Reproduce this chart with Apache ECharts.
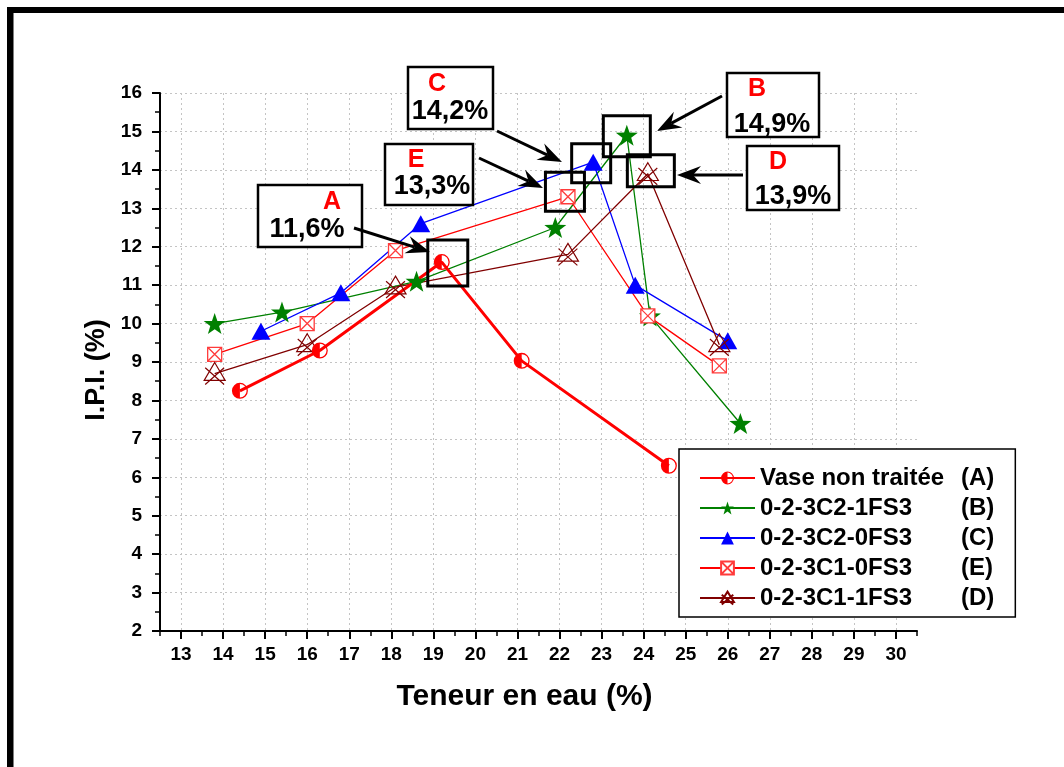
<!DOCTYPE html>
<html><head><meta charset="utf-8">
<script src="https://cdn.jsdelivr.net/npm/echarts@6/dist/echarts.min.js"></script>
<style>html,body{margin:0;padding:0;background:#fff}#c{width:1064px;height:767px}</style>
</head><body><div id="c"></div>
<script>
// ---------- data ----------
const seriesNames = ['Vase non traitée', '0-2-3C2-1FS3', '0-2-3C2-0FS3', '0-2-3C1-0FS3', '0-2-3C1-1FS3'];
const seriesLetters = ['(A)', '(B)', '(C)', '(E)', '(D)'];

const xA = [14.4, 16.3, 19.2, 21.1, 24.6];
const yA = [8.25, 9.3, 11.6, 9.03, 6.3];

const xB = [13.8, 15.4, 18.6, 21.9, 23.6, 24.15, 26.3];
const yB = [10.0, 10.3, 11.1, 12.5, 14.9, 10.2, 7.4];

const xC = [14.9, 16.8, 18.7, 22.8, 23.8, 26.0];
const yC = [9.8, 10.8, 12.6, 14.2, 11.0, 9.55];

const xE = [13.8, 16.0, 18.1, 22.2, 24.1, 25.8];
const yE = [9.2, 10.0, 11.9, 13.3, 10.2, 8.9];

const xD = [13.8, 16.0, 18.1, 22.2, 24.1, 25.8];
const yD = [8.7, 9.45, 10.95, 11.8, 13.9, 9.45];

const xTickValues = [13, 14, 15, 16, 17, 18, 19, 20, 21, 22, 23, 24, 25, 26, 27, 28, 29, 30];

const annotationLetters = ['A', 'B', 'C', 'E', 'D'];
const annotationValues = ['11,6%', '14,9%', '14,2%', '13,3%', '13,9%'];

// ---------- styling ----------
const FONT = 'Arial, "Liberation Sans", sans-serif';
const STAR = 'path://M10,0L12.35,6.76L19.51,6.91L13.8,11.24L15.88,18.09L10,14L4.12,18.09L6.2,11.24L0.49,6.91L7.65,6.76Z';
const HALF = 'path://M10,0A10,10 0 0 0 10,20Z M10,0A10,10 0 0 1 10,20L10,18.4A8.4,8.4 0 0 0 10,1.6Z';
const RIGHTHALF = 'path://M0,0A10,10 0 0 1 0,20Z';
const XSQUARE = 'path://M0,0L20,0L20,20L0,20Z M0,0L20,20 M20,0L0,20';
const XTRI = 'path://M10,0L20,17L0,17Z M1,5L19,21 M19,5L1,21';

function pts(xs, ys) { return xs.map((x, i) => [x, ys[i]]); }

const chart = echarts.init(document.getElementById('c'), null, { renderer: 'canvas' });

const seriesA = { type: 'line', name: seriesNames[0], data: pts(xA, yA), symbol: HALF, symbolSize: 16,
  itemStyle: { color: '#ff0000' }, lineStyle: { color: '#ff0000', width: 3 } };
const seriesB = { type: 'line', name: seriesNames[1], data: pts(xB, yB), symbol: STAR, symbolSize: [22, 21],
  itemStyle: { color: '#008000' }, lineStyle: { color: '#008000', width: 1.3 } };
const seriesC = { type: 'line', name: seriesNames[2], data: pts(xC, yC), symbol: 'triangle', symbolSize: [19, 17],
  itemStyle: { color: '#0000ff' }, lineStyle: { color: '#0000ff', width: 1.3 } };
const seriesE = { type: 'line', name: seriesNames[3], data: pts(xE, yE), symbol: XSQUARE, symbolSize: 14,
  itemStyle: { color: '#ffffff', borderColor: '#ff3b3b', borderWidth: 1.3 }, lineStyle: { color: '#ff0000', width: 1.3 } };
const seriesD = { type: 'line', name: seriesNames[4], data: pts(xD, yD), symbol: XTRI, symbolSize: [21, 22],
  itemStyle: { color: 'rgba(255,255,255,0)', borderColor: '#800000', borderWidth: 1.2 }, lineStyle: { color: '#800000', width: 1.3 } };
const seriesAfill = { type: 'scatter', name: 'A-fill', data: pts(xA, yA), symbol: RIGHTHALF, symbolSize: [6.6, 13.2],
  symbolOffset: [3.3, 0], itemStyle: { color: '#ffffff' }, silent: true };

const allSeries = [seriesB, seriesC, seriesE, seriesD, seriesA, seriesAfill];
allSeries.forEach(s => { s.animation = false; s.emphasis = { disabled: true }; s.xAxisIndex = 0; s.yAxisIndex = 0; });

const axisLabelStyle = { fontFamily: FONT, fontWeight: 'bold', fontSize: 19, color: '#000' };
const gridLine = { show: true, lineStyle: { color: '#c4c4c4', width: 1, type: [2, 3] } };

chart.setOption({
  animation: false,
  backgroundColor: '#fff',
  grid: { left: 160, right: 147, top: 93, bottom: 136 },
  legend: {
    data: seriesNames,
    orient: 'vertical', left: 679, top: 449,
    backgroundColor: '#fff', borderColor: '#000', borderWidth: 1.5,
    padding: [17, 21, 7, 20], itemGap: 6, itemWidth: 55, itemHeight: 16,
    selectedMode: false,
    formatter: name => {
      const i = seriesNames.indexOf(name);
      return '{n|' + seriesNames[i] + '}{l|' + seriesLetters[i] + '}';
    },
    textStyle: {
      fontFamily: FONT, fontWeight: 'bold', fontSize: 24, color: '#000', lineHeight: 24,
      rich: {
        n: { fontFamily: FONT, fontWeight: 'bold', fontSize: 24, color: '#000', width: 201, lineHeight: 24 },
        l: { fontFamily: FONT, fontWeight: 'bold', fontSize: 24, color: '#000', lineHeight: 24 }
      }
    }
  },
  xAxis: [{
    type: 'value', min: 12.5, max: 30.5, interval: 0.5,
    name: 'Teneur en eau (%)', nameLocation: 'middle', nameGap: 51,
    nameTextStyle: { fontFamily: FONT, fontWeight: 'bold', fontSize: 30, color: '#000', padding: [0, 28, 0, 0] },
    axisLine: { show: true, onZero: false, lineStyle: { color: '#000', width: 2 } },
    axisTick: { show: true, length: 8, customValues: xTickValues, lineStyle: { color: '#000', width: 2 } },
    axisLabel: Object.assign({ margin: 14, customValues: xTickValues,
      formatter: v => (Number.isInteger(v) ? String(v) : '') }, axisLabelStyle),
    splitLine: gridLine
  }, {
    type: 'value', min: 12.5, max: 30.5, interval: 0.5, position: 'bottom',
    axisLine: { show: false },
    axisTick: { show: true, length: 5, lineStyle: { color: '#000', width: 1.5 } },
    axisLabel: { show: false }, splitLine: { show: false }
  }],
  yAxis: {
    type: 'value', min: 2, max: 16, interval: 1,
    name: 'I.P.I. (%)', nameLocation: 'middle', nameGap: 32,
    nameTextStyle: { fontFamily: FONT, fontWeight: 'bold', fontSize: 27, color: '#000', padding: [0, 16, 0, 0] },
    axisLine: { show: true, onZero: false, lineStyle: { color: '#000', width: 2 } },
    axisTick: { show: true, length: 8, lineStyle: { color: '#000', width: 2 } },
    minorTick: { show: true, splitNumber: 2, length: 5, lineStyle: { color: '#000', width: 1.5 } },
    axisLabel: Object.assign({ margin: 18 }, axisLabelStyle),
    splitLine: gridLine
  },
  series: allSeries
});

// ---------- annotations ----------
const annoSeries = [seriesA, seriesB, seriesC, seriesE, seriesD];
const annoXs = [xA, xB, xC, xE, xD];
const annoYs = [yA, yB, yC, yE, yD];
const annoLayout = [
  { hl: [6, 1, 40, 46], box: [258, 185, 104, 62], lp: [332, 202], vp: [307, 230], ar: [354, 228, 430, 252] },
  { hl: [0, 1, 47, 41], box: [727, 73, 92, 64], lp: [757, 89], vp: [772, 125], ar: [722, 96, 657, 131] },
  { hl: [-2, 1, 39, 39], box: [408, 67, 85, 62], lp: [437, 84], vp: [450, 112], ar: [497, 131, 562, 162] },
  { hl: [-3, -5, 39, 39], box: [385, 144, 88, 61], lp: [416, 160], vp: [432, 187], ar: [479, 158, 543, 188] },
  { hl: [3, -3, 47, 32], box: [747, 146, 92, 64], lp: [778, 162], vp: [793, 197], ar: [743, 175, 677, 175] }
];

const graphics = [];
// outer frame (top and left edges)
graphics.push({ type: 'rect', shape: { x: 7, y: 7, width: 1057, height: 6 }, style: { fill: '#000' }, z: 200 });
graphics.push({ type: 'rect', shape: { x: 7, y: 7, width: 6.5, height: 760 }, style: { fill: '#000' }, z: 200 });

annoLayout.forEach((L, k) => {
  const ys = annoYs[k];
  let pi = 0;
  ys.forEach((v, i) => { if (v > ys[pi]) pi = i; });
  const sIdx = allSeries.indexOf(annoSeries[k]);
  const p = chart.convertToPixel({ seriesIndex: sIdx }, [annoXs[k][pi], ys[pi]]);
  const w = L.hl[2], h = L.hl[3];
  graphics.push({ type: 'rect', z: 150,
    shape: { x: p[0] + L.hl[0] - w / 2, y: p[1] + L.hl[1] - h / 2, width: w, height: h },
    style: { fill: 'none', stroke: '#000', lineWidth: 3 } });
  graphics.push({ type: 'rect', z: 150,
    shape: { x: L.box[0], y: L.box[1], width: L.box[2], height: L.box[3] },
    style: { fill: '#fff', stroke: '#000', lineWidth: 2.5 } });
  graphics.push({ type: 'text', z: 151, style: { text: annotationLetters[k], x: L.lp[0], y: L.lp[1],
    align: 'center', verticalAlign: 'middle', font: 'bold 25px ' + FONT, fill: '#ff0000' } });
  graphics.push({ type: 'text', z: 151, style: { text: annotationValues[k], x: L.vp[0], y: L.vp[1],
    align: 'center', verticalAlign: 'middle', font: 'bold 27px ' + FONT, fill: '#000' } });
  // arrow
  const [x1, y1, x2, y2] = L.ar;
  const dx = x2 - x1, dy = y2 - y1, len = Math.hypot(dx, dy);
  const ux = dx / len, uy = dy / len, nx = -uy, ny = ux;
  const HL = 24, HW = 9, NOTCH = 16;
  graphics.push({ type: 'line', z: 151,
    shape: { x1: x1, y1: y1, x2: x2 - ux * NOTCH, y2: y2 - uy * NOTCH },
    style: { stroke: '#000', lineWidth: 3 } });
  graphics.push({ type: 'polygon', z: 151,
    shape: { points: [[x2, y2], [x2 - ux * HL + nx * HW, y2 - uy * HL + ny * HW],
      [x2 - ux * NOTCH, y2 - uy * NOTCH], [x2 - ux * HL - nx * HW, y2 - uy * HL - ny * HW]] },
    style: { fill: '#000' } });
});

chart.setOption({ graphic: graphics });
</script>
</body></html>
